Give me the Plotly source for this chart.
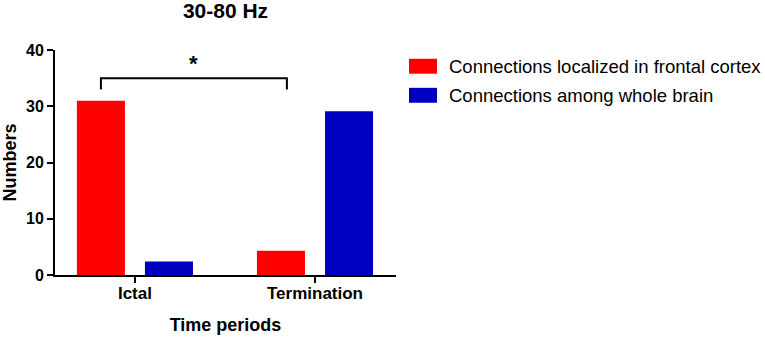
import plotly.graph_objects as go

# ---- data ----
categories = ["Ictal", "Termination"]
series_names = ["Connections localized in frontal cortex", "Connections among whole brain"]
frontal_values = [31.0, 4.3]
whole_brain_values = [2.4, 29.1]
series_colors = ["#FF0000", "#0000C0"]
y_ticks = [0, 10, 20, 30, 40]
title_text = "30-80 Hz"
x_title = "Time periods"
y_title = "Numbers"
sig_label = "*"
sig_bracket_y = [33.0, 35.0]  # leg bottom, bracket top (data units)

W, H = 765, 343
L, R, T, B = 55, 369, 49.5, 67.5
FONT = "Liberation Sans, Arial, sans-serif"

fig = go.Figure()
for name, vals, col in zip(series_names, [frontal_values, whole_brain_values], series_colors):
    fig.add_trace(go.Bar(x=categories, y=vals, name=name, marker=dict(color=col, line=dict(width=0)),
                         showlegend=False))

# significance bracket between Ictal (frontal bar) and Termination (frontal bar)
x0 = 0 - 0.189
x1 = 1 - 0.156
yb, yt = sig_bracket_y
fig.add_shape(type="path", xref="x", yref="y",
              path=f"M {x0},{yb} L {x0},{yt} L {x1},{yt} L {x1},{yb}",
              line=dict(color="black", width=2))
fig.add_annotation(x=(x0 + x1) / 2, y=yt, xref="x", yref="y", text=sig_label, showarrow=False,
                   yanchor="bottom", yshift=0, font=dict(family=FONT, size=22, color="black", weight="bold"))

# manual legend (pixel layout converted to paper coordinates)
pw, ph = W - L - R, H - T - B
def px(xp):
    return (xp - L) / pw
def py(yp):
    return (H - B - yp) / ph

rows_y = [58.3, 87.5]
for name, col, ytop in zip(series_names, series_colors, rows_y):
    fig.add_shape(type="rect", xref="paper", yref="paper",
                  x0=px(409), x1=px(437), y0=py(ytop + 15), y1=py(ytop),
                  fillcolor=col, line=dict(width=0))
    fig.add_annotation(xref="paper", yref="paper", x=px(447), y=py(ytop + 7.5), text=name,
                       showarrow=False, xanchor="left", yanchor="middle",
                       font=dict(family=FONT, size=18.5, color="black"))

fig.update_layout(
    width=W, height=H,
    margin=dict(l=L, r=R, t=T, b=B, pad=0),
    paper_bgcolor="white", plot_bgcolor="white",
    barmode="group", bargap=0.244, bargroupgap=0.294,
    title=dict(text=title_text, x=0.5, xref="paper", xanchor="center", y=1 - 3 / H, yanchor="top",
               font=dict(family=FONT, size=21, color="black", weight="bold")),
    font=dict(family=FONT, color="black"),
    xaxis=dict(range=[-0.444, 1.45], showline=True, linecolor="black", linewidth=2, automargin=False,
               ticks="outside", ticklen=6, tickwidth=2, tickcolor="black", showgrid=False, zeroline=False,
               ticklabelstandoff=-4,
               tickfont=dict(family=FONT, size=17, color="black", weight="bold"),
               title=dict(text=x_title, standoff=16,
                          font=dict(family=FONT, size=18, color="black", weight="bold"))),
    yaxis=dict(range=[0, 40], tickvals=y_ticks, showline=True, linecolor="black", linewidth=2, automargin=False,
               ticks="outside", ticklen=6, tickwidth=2, tickcolor="black", showgrid=False, zeroline=False,
               tickfont=dict(family=FONT, size=16, color="black", weight="bold"),
               title=dict(text=y_title, standoff=5,
                          font=dict(family=FONT, size=18, color="black", weight="bold"))),
)

fig.write_html("out.html", config={"displayModeBar": False},
               post_script="document.body.style.margin='0';document.body.style.overflow='hidden';")
